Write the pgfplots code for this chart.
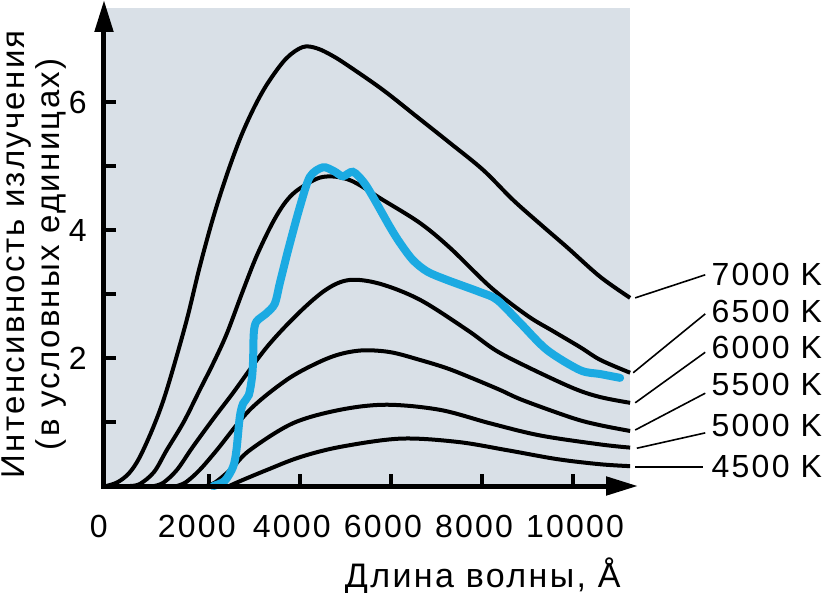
\documentclass[border=0pt]{standalone}
\usepackage{fontspec}
\setmainfont{Liberation Sans}[LetterSpace=7]
\usepackage{pgfplots}
\pgfplotsset{compat=1.18}
\usetikzlibrary{arrows.meta}
\definecolor{bgcol}{RGB}{217,224,231}
\definecolor{spec}{RGB}{27,170,226}

\begin{document}
\begin{tikzpicture}
\useasboundingbox (-52pt,-53.5pt) rectangle (359.5pt,243pt);
\begin{axis}[
  at={(0,0)}, anchor=south west,
  width=263pt, height=239pt, scale only axis,
  xmin=-300, xmax=11250, ymin=0, ymax=7.47,
  axis x line=bottom, axis y line=left,
  axis line style={draw=none},
  axis background/.style={fill=bgcol},
  clip=false,
  tick align=inside,
  major tick length=6pt,
  minor tick length=6pt,
  tick style={black, line width=2pt},
  xtick={2000,4000,6000,8000,10000},
  xticklabels={{2000\hspace*{4pt}},4000,6000,8000,{\hspace*{10pt}10000}},
  extra x ticks={0},
  extra x tick labels={0},
  extra x tick style={tick style={draw=none}, xticklabel style={xshift=-5.5pt}},
  ytick={2,4,6}, minor ytick={1,3,5},
  scaled ticks=false,
  /pgf/number format/1000 sep={},
  /pgf/number format/assume math mode=true,
  tick label style={font=\fontsize{16}{16}\selectfont, inner sep=0pt},
  xticklabel style={yshift=-14.5pt, xshift=-4pt},
  yticklabel style={xshift=-8.5pt},
  every axis x label/.style={at={(rel axis cs:1,0)}, anchor=base east,
    xshift=-4.5pt, yshift=-50.5pt, inner sep=0pt, font=\fontsize{17}{17}\selectfont},
  every axis y label/.style={at={([xshift=-18.5pt]rel axis cs:0,0.485)},
    rotate=90, anchor=south, inner sep=0pt, align=center,
    font=\fontsize{16.5}{17.5}\selectfont},
  xlabel={Длина волны, Å},
  ylabel={Интенсивность излучения\\(в условных единицах)},
]
% 7000 K
\addplot[black, line width=2pt, smooth, tension=0.55] coordinates {
(-250,0) (0,0.06) (250,0.2) (484,0.45) (800,0.95) (1077,1.5) (1500,2.55)
(1800,3.42) (2100,4.2) (2400,4.87) (2700,5.45) (3000,5.92) (3300,6.3)
(3700,6.68) (4066,6.86) (4374,6.84) (4726,6.72) (5099,6.55)
(5825,6.19) (6572,5.77) (7297,5.36) (8023,4.94) (8682,4.47) (9300,4.08)
(9869,3.73) (10594,3.27) (11253,2.94)};
% 6500 K
\addplot[black, line width=2pt, smooth, tension=0.55] coordinates {
(250,0) (484,0.03) (800,0.22) (1077,0.56) (1450,1.0) (1802,1.5) (2100,1.92)
(2396,2.38) (2750,3.05) (3055,3.6) (3407,4.12) (3700,4.45) (4000,4.65)
(4506,4.83) (5099,4.78) (5825,4.47)
(6638,4.11) (7300,3.72) (8200,3.10) (9000,2.66) (9561,2.42) (10154,2.17)
(10600,1.97) (11253,1.77)};
% 6000 K
\addplot[black, line width=2pt, smooth, tension=0.55] coordinates {
(800,0) (1000,0.05) (1300,0.25) (1649,0.61) (2100,1.05) (2528,1.45)
(3275,2.17) (4000,2.72) (4600,3.08) (5099,3.22) (5759,3.16) (6638,2.91)
(7671,2.44) (8300,2.12) (9000,1.86) (10000,1.53) (10594,1.39) (11253,1.30)};
% 5500 K
\addplot[black, line width=2pt, smooth, tension=0.55] coordinates {
(1300,0) (1500,0.06) (1800,0.25) (2176,0.56) (2901,1.19) (3714,1.66)
(4374,1.92) (4879,2.06) (5400,2.12) (6000,2.09) (6638,1.97) (7231,1.84)
(7800,1.68) (8400,1.50) (8900,1.34) (10000,1.06) (10594,0.95) (11253,0.86)};
% 5000 K
\addplot[black, line width=2pt, smooth, tension=0.55] coordinates {
(1950,0) (2150,0.06) (2500,0.27) (2901,0.56) (3846,0.98) (4879,1.19)
(5900,1.27) (7077,1.19) (8176,0.98) (9275,0.79) (10594,0.65) (11253,0.60)};
% 4500 K
\addplot[black, line width=2pt, smooth, tension=0.55] coordinates {
(2450,0) (2700,0.08) (3275,0.25) (4000,0.45) (4879,0.61) (6200,0.74)
(7451,0.69) (8550,0.56) (9649,0.42) (10594,0.34) (11253,0.31)};
% solar spectrum
\addplot[spec, line width=4pt, smooth, tension=0.5, line cap=round] coordinates {
(2100,0) (2350,0.08) (2535,0.30) (2608,0.56) (2682,1.08) (2755,1.29)
(2880,1.42) (2950,1.7) (2974,1.97) (2989,2.39) (3048,2.57) (3268,2.70)
(3451,2.85) (3561,3.17) (3744,3.69) (4000,4.36) (4220,4.83) (4506,4.98)
(4750,4.92) (4945,4.84) (5165,4.91) (5400,4.75) (5605,4.52) (5978,4.05)
(6198,3.80) (6484,3.53) (6800,3.35) (7231,3.22) (7957,3.03) (8330,2.91)
(8836,2.55) (9429,2.125) (10154,1.81) (10594,1.75) (11033,1.69)};

% axis arrows
\draw[line width=2.5pt, -{Triangle[length=16pt,width=9pt]}]
  ([xshift=-1.25pt]rel axis cs:0,0) -- ([xshift=4pt]rel axis cs:1,0);
\draw[line width=2.5pt, -{Triangle[length=16pt,width=9pt]}]
  ([yshift=-1.25pt]rel axis cs:0,0) -- ([yshift=4pt]rel axis cs:0,1);

% temperature labels
\tikzset{tlab/.style={anchor=west, inner sep=0pt, font=\fontsize{16}{16}\selectfont}}
\draw[line width=0.8pt] (axis cs:11364,2.94) -- (axis cs:12902,3.30);
\draw[line width=0.8pt] (axis cs:11320,1.77) -- (axis cs:12902,2.69);
\draw[line width=0.8pt] (axis cs:11364,1.30) -- (axis cs:12902,2.09);
\draw[line width=0.8pt] (axis cs:11364,0.875) -- (axis cs:12902,1.45);
\draw[line width=0.8pt] (axis cs:11400,0.59) -- (axis cs:12902,0.83);
\draw[line width=0.8pt] (axis cs:11364,0.30) -- (axis cs:12860,0.30);
\node[tlab] at (axis cs:13034,3.30) {7000 K};
\node[tlab] at (axis cs:13034,2.72) {6500 K};
\node[tlab] at (axis cs:13034,2.16) {6000 K};
\node[tlab] at (axis cs:13034,1.58) {5500 K};
\node[tlab] at (axis cs:13034,0.95) {5000 K};
\node[tlab] at (axis cs:13034,0.31) {4500 K};
\end{axis}
\end{tikzpicture}
\end{document}
